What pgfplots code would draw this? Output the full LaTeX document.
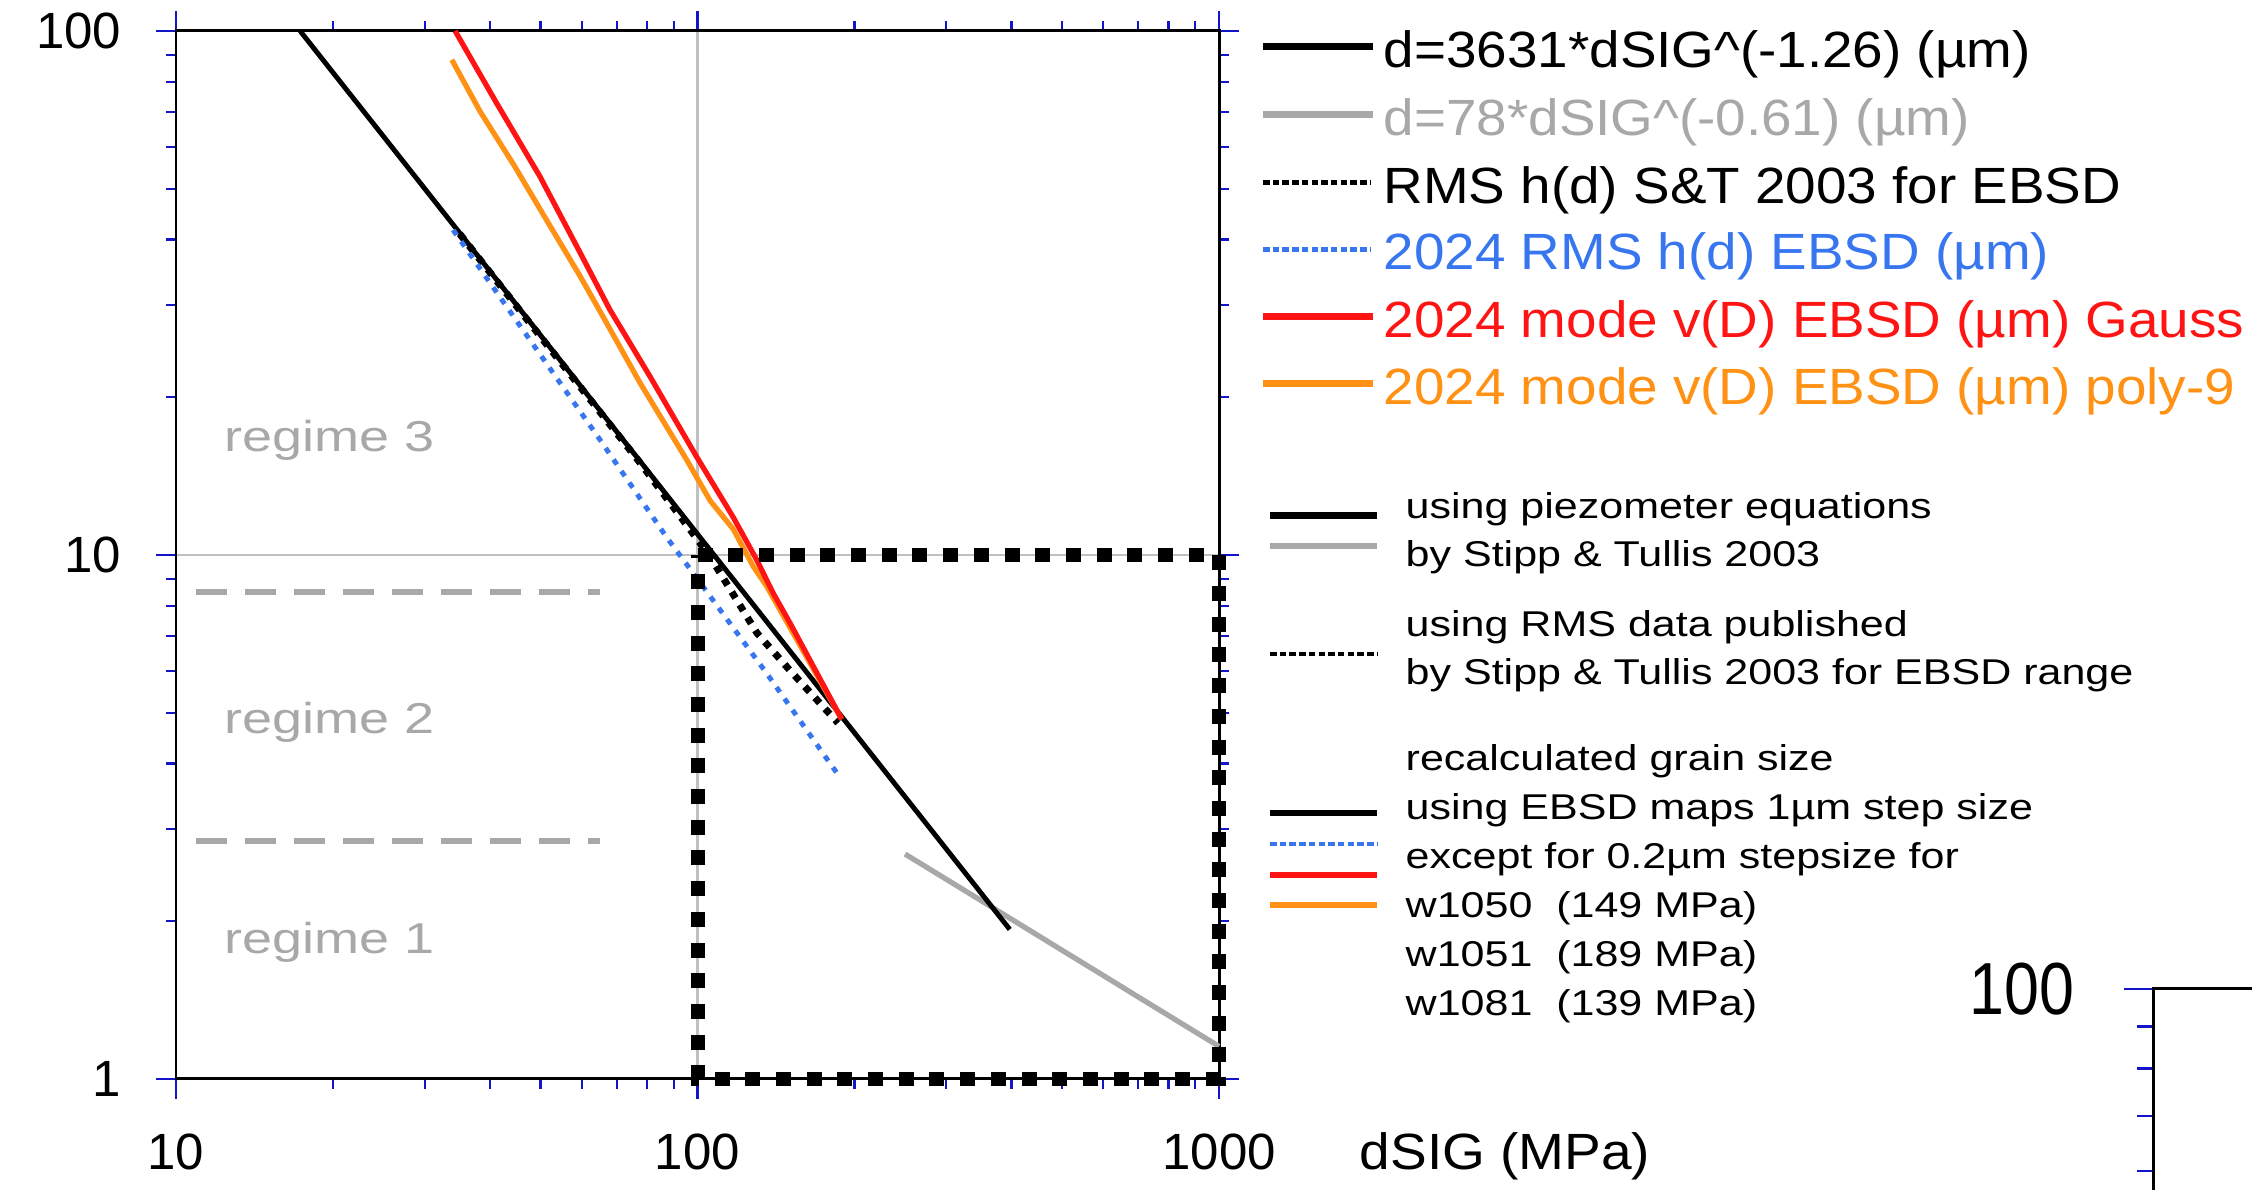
\documentclass[border=0pt]{standalone}
\usepackage{fontspec}
\setmainfont{Liberation Sans}
\newfontfamily\legfont[FakeStretch=1.076]{Liberation Sans}
\newfontfamily\blkfont[FakeStretch=1.2]{Liberation Sans}
\newfontfamily\regfont[FakeStretch=1.25]{Liberation Sans}
\newfontfamily\labfont[FakeStretch=1.08]{Liberation Sans}
\newfontfamily\narrowfont[FakeStretch=0.85]{Liberation Sans}
\usepackage{pgfplots}
\pgfplotsset{compat=1.18}
\definecolor{tickblue}{RGB}{20,20,200}
\definecolor{pzgray}{RGB}{168,168,168}
\definecolor{rmsblue}{RGB}{56,118,240}
\definecolor{gsred}{RGB}{255,20,20}
\definecolor{plorange}{RGB}{255,146,20}
\definecolor{gridgray}{RGB}{192,192,192}
\pgfplotsset{
  boxlog/.style={
    scale only axis, tick align=outside,
    every tick/.style={tickblue, line width=0.6pt},
    axis line style={line width=0.85pt, black},
  },
}
\begin{document}
\begin{tikzpicture}
\useasboundingbox (0,0) rectangle (22.52,11.90);
\clip (0,0) rectangle (22.52,11.90);
\begin{axis}[boxlog,
  at={(1.76cm,1.11cm)}, anchor=south west,
  width=10.43cm, height=10.48cm,
  xmode=log, ymode=log, xmin=10, xmax=1000, ymin=1, ymax=100,
  xtick={10,100,1000}, ytick={1,10,100},
  minor xtick={20,30,40,50,60,70,80,90,200,300,400,500,600,700,800,900},
  minor ytick={2,3,4,5,6,7,8,9,20,30,40,50,60,70,80,90},
  xticklabels={}, yticklabels={},
  major tick length=0.2cm, minor tick length=0.1cm,
  grid=major, major grid style={gridgray, line width=0.75pt},
  clip=false]
  % regime boundaries
  \addplot[pzgray, line width=1.7pt, dash pattern=on 0.31cm off 0.18cm]
    coordinates {(10.9,8.5)(64.9,8.5)};
  \addplot[pzgray, line width=1.7pt, dash pattern=on 0.31cm off 0.18cm]
    coordinates {(10.9,2.85)(64.9,2.85)};
  % d=78*dSIG^(-0.61)
  \addplot[pzgray, line width=1.5pt] coordinates {
    (250,2.687)(300,2.405)(400,2.018)(500,1.761)(600,1.576)(700,1.434)(800,1.322)(1000,1.154)};
  % d=3631*dSIG^(-1.26)
  \addplot[black, line width=1.4pt] coordinates {
    (17.3,100)(20,83.30)(25,62.90)(30,49.98)(40,34.79)(50,26.26)(60,20.87)(80,14.53)
    (100,10.96)(120,8.715)(150,6.579)(200,4.578)(250,3.456)(300,2.747)(350,2.262)(397,1.930)};
  % RMS h(d) S&T 2003
  \addplot[black, line width=2pt, dash pattern=on 0.07cm off 0.08cm] coordinates {
    (35,41.0)(50,26.1)(77.6,15.0)(96,11.3)(105.7,9.93)(130,7.1)(150,6.04)(186,4.78)};
  % 2024 RMS h(d)
  \addplot[rmsblue, line width=1.4pt, dash pattern=on 0.06cm off 0.08cm] coordinates {
    (34.0,41.7)(44.4,28.5)(65,16.6)(87.3,10.8)(98.2,9.22)(135.8,5.94)(187,3.78)};
  % 2024 mode poly-9
  \addplot[plorange, line width=1.5pt] coordinates {
    (33.8,88.1)(38.3,70.2)(44.4,55.6)(51.4,43.5)(59.6,34.0)(65.9,28.5)(77.6,21.3)
    (95.3,15.2)(105.7,12.7)(117.1,11.2)(128,9.5)(135.8,8.71)(189,4.86)};
  % 2024 mode Gauss
  \addplot[gsred, line width=1.5pt] coordinates {
    (34.3,100)(41.2,72.8)(49.9,52.7)(59.6,37.7)(67.9,29.4)(81.1,21.9)(99.6,15.4)
    (112,12.7)(117.1,11.8)(130,9.77)(139.7,8.45)(150.5,7.41)(189,4.86)};
  % EBSD range box
  \addplot[black, line width=0.14cm, dash pattern=on 0.15cm off 0.157cm] coordinates {
    (100,10)(1000,10)(1000,1)(100,1)(100,10)};
\end{axis}
% tick labels
\begin{scope}[font=\fontsize{14.5}{14.5}\selectfont]
  \node[anchor=base] at (1.76,0.20) {10};
  \node[anchor=base] at (6.975,0.20) {100};
  \node[anchor=base] at (12.19,0.20) {1000};
  \node[anchor=east, inner sep=0pt] at (1.22,11.59) {100};
  \node[anchor=east, inner sep=0pt] at (1.22,6.35) {10};
  \node[anchor=east, inner sep=0pt] at (1.22,1.11) {1};
\end{scope}
\node[anchor=base west, inner sep=0pt, font=\labfont\fontsize{14.5}{14.5}\selectfont] at (13.59,0.20) {dSIG (MPa)};
% regime labels
\begin{scope}[font=\regfont\fontsize{12.3}{12.3}\selectfont, text=pzgray]
  \node[anchor=base west, inner sep=0pt] at (2.24,7.38) {regime 3};
  \node[anchor=base west, inner sep=0pt] at (2.24,4.56) {regime 2};
  \node[anchor=base west, inner sep=0pt] at (2.24,2.36) {regime 1};
\end{scope}
% legend
\begin{scope}[font=\legfont\fontsize{14.5}{14.5}\selectfont]
  \draw[black, line width=2pt] (12.63,11.433) -- (13.73,11.433);
  \node[anchor=base west, inner sep=0pt] at (13.83,11.22) {d=3631*dSIG\textasciicircum(-1.26) (µm)};
  \draw[pzgray, line width=2pt] (12.63,10.75) -- (13.73,10.75);
  \node[anchor=base west, inner sep=0pt, text=pzgray] at (13.83,10.54) {d=78*dSIG\textasciicircum(-0.61) (µm)};
  \draw[black, line width=1.4pt, dash pattern=on 0.065cm off 0.032cm] (12.63,10.073) -- (13.70,10.073);
  \node[anchor=base west, inner sep=0pt] at (13.83,9.86) {RMS h(d) S\&T 2003 for EBSD};
  \draw[rmsblue, line width=1.4pt, dash pattern=on 0.065cm off 0.032cm] (12.63,9.407) -- (13.70,9.407);
  \node[anchor=base west, inner sep=0pt, text=rmsblue] at (13.83,9.20) {2024 RMS h(d) EBSD (µm)};
  \draw[gsred, line width=2pt] (12.63,8.733) -- (13.73,8.733);
  \node[anchor=base west, inner sep=0pt, text=gsred] at (13.83,8.52) {2024 mode v(D) EBSD (µm) Gauss};
  \draw[plorange, line width=2pt] (12.63,8.06) -- (13.73,8.06);
  \node[anchor=base west, inner sep=0pt, text=plorange] at (13.83,7.85) {2024 mode v(D) EBSD (µm) poly-9};
\end{scope}
\begin{scope}[font=\blkfont\fontsize{10.2}{10.2}\selectfont]
  \draw[black, line width=1.9pt] (12.70,6.743) -- (13.77,6.743);
  \draw[pzgray, line width=1.9pt] (12.70,6.44) -- (13.77,6.44);
  \draw[black, line width=1.4pt, dash pattern=on 0.065cm off 0.032cm] (12.70,5.36) -- (13.77,5.36);
  \draw[black, line width=1.9pt] (12.70,3.77) -- (13.77,3.77);
  \draw[rmsblue, line width=1.4pt, dash pattern=on 0.065cm off 0.032cm] (12.70,3.46) -- (13.77,3.46);
  \draw[gsred, line width=1.9pt] (12.70,3.15) -- (13.77,3.15);
  \draw[plorange, line width=1.9pt] (12.70,2.85) -- (13.77,2.85);
  \node[anchor=base west, inner sep=0pt] at (14.05,6.71) {using piezometer equations};
  \node[anchor=base west, inner sep=0pt] at (14.05,6.23) {by Stipp \& Tullis 2003};
  \node[anchor=base west, inner sep=0pt] at (14.05,5.53) {using RMS data published};
  \node[anchor=base west, inner sep=0pt] at (14.05,5.05) {by Stipp \& Tullis 2003 for EBSD range};
  \node[anchor=base west, inner sep=0pt] at (14.05,4.19) {recalculated grain size};
  \node[anchor=base west, inner sep=0pt] at (14.05,3.70) {using EBSD maps 1µm step size};
  \node[anchor=base west, inner sep=0pt] at (14.05,3.21) {except for 0.2µm stepsize for};
  \node[anchor=base west, inner sep=0pt] at (14.05,2.72) {w1050\ \ (149 MPa)};
  \node[anchor=base west, inner sep=0pt] at (14.05,2.23) {w1051\ \ (189 MPa)};
  \node[anchor=base west, inner sep=0pt] at (14.05,1.74) {w1081\ \ (139 MPa)};
\end{scope}
% start of the next panel, cut by the page edge
\begin{axis}[boxlog,
  at={(21.53cm,2.01cm)}, anchor=north west,
  width=4cm, height=8.2cm,
  ymode=log, xmin=0, xmax=1, ymin=10, ymax=100,
  xtick=\empty, ytick={100}, yticklabels={},
  minor ytick={20,30,40,50,60,70,80,90},
  major tick length=0.29cm, minor tick length=0.16cm]
\end{axis}
\node[anchor=east, inner sep=0pt, font=\narrowfont\fontsize{21}{21}\selectfont] at (20.75,2.01) {100};
\end{tikzpicture}
\end{document}
